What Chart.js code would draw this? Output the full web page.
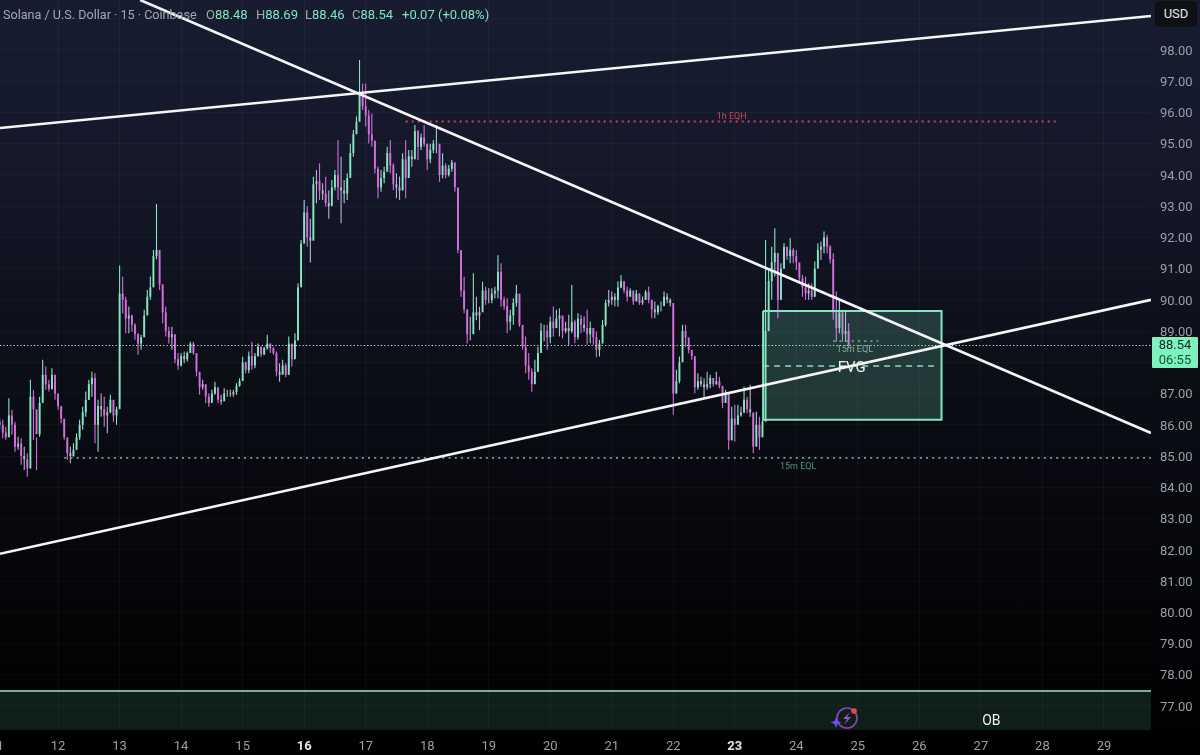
<!DOCTYPE html>
<html>
<head>
<meta charset="utf-8">
<title>Solana / U.S. Dollar</title>
<script src="https://cdn.jsdelivr.net/npm/chart.js@4/dist/chart.umd.js"></script>
<style>
  html, body { margin: 0; padding: 0; width: 1200px; height: 755px; overflow: hidden; }
  body {
    position: relative;
    background: linear-gradient(180deg, #171c30 0%, #141829 22%, #0c0e18 48%, #06070b 72%, #020203 92%, #000 100%);
    font-family: Roboto, sans-serif;
  }
  canvas { position: absolute; left: 0; top: 0; }
  .hdr { position: absolute; top: 7px; left: 3px; font-size: 13px; line-height: 16px; color: #a3a9b4; white-space: nowrap; }
  .hdr b { font-weight: 400; color: #7fe6bd; }
  .hdr span { position: absolute; top: 0; }
  .usd { position: absolute; left: 1155px; top: 1px; width: 42px; height: 26px; line-height: 26px; background: #0f1013;
         border-radius: 4px; color: #e8e8ea; font-size: 13px; text-align: center; }
  .last { position: absolute; left: 1152px; top: 337px; width: 46px; height: 31px; background: #7df2bd; color: #0b2a20;
          font-size: 13px; line-height: 15px; text-align: center; border-radius: 1px; }
  .icon { position: absolute; left: 830px; top: 704px; }
</style>
</head>
<body>
<canvas id="grafico" width="1200" height="755"></canvas>
<div class="hdr"><span style="left:0;font-size:12.6px">Solana / U.S. Dollar · 15 · Coinbase</span>
  <span style="left:203px">O<b>88.48</b></span>
  <span style="left:253px">H<b>88.69</b></span>
  <span style="left:302px">L<b>88.46</b></span>
  <span style="left:349px">C<b>88.54</b></span>
  <span style="left:399px"><b>+0.07 (+0.08%)</b></span>
</div>
<div class="usd">USD</div>
<div class="last">88.54<br><span style="color:#14533c">06:55</span></div>
<svg class="icon" width="32" height="28" viewBox="0 0 32 28">
  <circle cx="17" cy="14" r="10" fill="none" stroke="#8e44ad" stroke-width="1.6"/>
  <path d="M20 8 L13 15 L17 15 L14 21 L21 13 L17 13 Z" fill="#a44fc7"/>
  <circle cx="24" cy="7" r="2.8" fill="#e5484d"/>
  <path d="M6 13 L7.5 17 L11.5 18.5 L7.5 20 L6 24 L4.5 20 L0.5 18.5 L4.5 17 Z" fill="#6a4ff0"/>
</svg>
<script>
// rows are one day each, 11 to 24, one stick every 0.05 day
const firstDay = 11.05;
const stepDay = 0.05;
const firstOpen = 86.1;
const highs = [
  86.21,86.16,85.94,86.85,86.48,86.1,85.62,85.57,85.3,85.09,87.44,87.12,85.6,86.9,88.08,87.87,87.44,87.81,87.22,
  86.8,86.58,86.16,85.46,85.3,85.41,85.73,86.16,86.58,87.07,87.44,87.7,87.65,86.8,87.0,86.9,86.58,86.96,86.69,86.58,
  91.1,90.75,90.1,89.79,89.52,89.25,88.93,88.88,89.68,90.32,90.75,91.6,93.07,91.39,90.32,89.79,89.14,89.14,88.72,88.3,
  88.3,88.35,88.35,88.66,88.66,88.3,87.55,87.44,87.22,87.01,87.12,87.38,87.12,86.96,87.17,87.12,87.12,87.12,87.33,87.49,
  88.18,88.03,88.35,88.66,88.3,88.6,88.5,88.5,88.88,88.6,88.5,88.35,87.97,88.08,87.97,88.83,88.5,88.93,90.53,91.92,
  93.2,93.0,92.6,93.94,94.16,94.37,93.73,93.94,93.5,93.84,94.16,95.12,94.58,93.84,94.05,95.0,95.44,95.87,97.68,96.93,
  96.93,96.08,95.97,95.01,94.26,94.16,94.26,94.9,95.12,94.37,94.05,93.95,94.69,95.12,94.8,94.8,95.6,95.44,95.33,95.6,
  95.0,95.0,95.12,95.6,94.9,94.69,94.37,94.32,94.48,94.1,93.46,91.49,90.74,89.57,89.46,90.85,90.1,89.78,90.58,90.42,
  90.37,90.37,90.42,91.43,91.17,90.1,90.05,89.68,90.05,90.48,89.78,89.14,88.83,88.3,87.81,88.08,88.5,89.25,89.2,89.2,
  89.47,89.79,89.68,89.73,89.47,89.3,89.52,90.48,89.36,89.57,89.52,89.47,89.68,89.3,89.04,88.99,88.72,89.36,90.0,90.32,
  90.27,90.21,90.59,90.8,90.53,90.43,90.37,90.21,90.32,90.21,90.11,90.32,90.43,90.0,89.95,89.84,89.95,90.27,90.21,90.05,
  89.79,87.76,88.19,89.2,89.2,88.61,88.34,88.08,87.65,87.54,87.49,87.7,87.6,87.49,87.7,87.54,87.22,87.12,86.9,86.58,
  86.64,86.64,86.58,87.22,86.9,87.28,86.37,86.42,86.26,86.15,91.92,90.96,91.7,92.29,90.64,91.17,91.81,91.7,91.97,91.65,
  91.6,91.17,90.8,90.75,90.53,90.53,91.23,91.81,91.87,92.19,92.08,91.76,91.49,90.27,90.0,89.68,89.68,89.25
];
const lows = [
  85.84,85.57,85.52,85.94,85.68,85.14,85.2,84.72,84.55,84.34,85.09,85.52,84.55,85.62,86.8,87.12,87.07,87.12,86.8,
  86.48,86.05,85.52,84.88,84.77,84.98,85.2,85.52,85.84,86.26,86.8,86.9,85.41,85.14,86.26,85.94,85.73,86.37,86.1,86.0,
  86.7,89.57,88.93,88.93,88.98,88.72,88.24,88.4,88.83,89.68,90.0,90.69,91.3,90.32,89.25,88.83,88.6,88.4,87.97,87.76,
  87.87,87.97,88.03,88.3,88.24,87.55,86.96,87.12,86.69,86.58,86.8,86.96,86.69,86.64,86.85,86.9,86.9,86.9,86.96,87.22,
  87.44,87.65,87.65,87.76,87.81,88.18,88.18,88.24,88.4,88.3,88.24,87.55,87.38,87.65,87.52,87.81,87.87,88.18,88.72,90.53,
  91.9,91.7,91.2,91.9,93.09,93.2,93.2,92.98,92.6,93.3,93.5,93.2,92.45,93.09,93.2,94.05,94.58,95.44,95.8,96.08,
  95.55,95.01,94.9,94.05,93.25,93.46,93.73,94.16,94.05,93.52,93.25,93.2,93.52,93.25,93.95,94.26,94.8,94.48,94.8,94.9,
  94.16,94.37,94.69,94.69,93.78,93.89,93.89,93.95,94.1,93.46,91.49,90.1,89.57,88.6,88.7,89.25,89.35,89.03,89.78,89.84,
  89.89,89.89,90.05,90.05,89.78,89.68,88.93,89.03,89.2,89.78,89.14,88.4,87.65,87.44,87.06,87.49,87.7,88.5,88.67,88.4,
  88.61,88.83,89.09,88.83,88.77,88.93,88.56,88.93,88.61,88.72,88.93,88.98,88.56,88.61,88.56,88.16,88.19,88.67,89.15,89.79,
  89.84,89.79,89.79,90.37,90.21,89.95,90.11,89.84,90.0,89.84,89.84,90.0,89.89,89.41,89.41,89.52,89.63,89.84,89.89,89.79,
  86.32,87.01,87.33,88.08,88.5,88.29,88.08,87.01,87.12,87.22,86.85,87.12,87.17,87.22,87.28,87.17,86.53,86.8,85.2,85.57,
  85.46,86.05,86.26,86.37,86.37,86.26,85.09,85.78,85.2,85.68,88.34,89.68,90.0,90.75,89.41,90.0,91.17,91.28,91.17,91.17,
  90.96,90.53,90.1,90.0,90.0,90.0,90.1,91.07,91.28,91.49,91.49,91.17,89.36,88.66,88.93,88.66,88.66,88.46
];
const closes = [
  86.0,85.75,85.6,86.3,86.0,85.3,85.4,85.0,84.9,84.6,86.9,86.5,85.7,86.7,87.6,87.3,87.15,87.6,87.0,
  86.6,86.2,85.6,85.1,85.0,85.2,85.6,86.0,86.4,86.8,87.3,87.5,86.0,86.6,86.5,86.3,86.4,86.8,86.3,86.5,
  90.2,90.0,89.4,89.5,89.2,88.9,88.6,88.8,89.5,90.1,90.4,91.4,91.6,90.5,89.6,89.0,88.8,88.9,88.1,87.9,
  88.2,88.1,88.3,88.6,88.3,87.7,87.2,87.3,86.9,86.7,87.0,87.2,86.8,86.75,87.0,87.0,86.98,87.05,87.25,87.4,
  88.0,87.75,88.2,87.9,88.2,88.5,88.25,88.45,88.6,88.45,88.3,87.7,87.6,87.9,87.6,88.6,88.1,88.7,90.4,91.8,
  92.8,92.0,91.9,93.7,93.8,93.5,93.4,93.1,93.0,93.6,94.0,93.6,93.5,93.4,93.9,94.7,95.3,95.7,96.6,96.2,
  95.9,95.3,95.1,94.2,93.6,93.9,94.1,94.7,94.3,93.7,93.6,93.5,94.5,93.9,94.6,94.5,95.4,94.9,95.2,95.0,
  94.5,94.8,95.0,95.0,94.0,94.3,94.0,94.2,94.4,93.6,91.6,90.3,89.7,88.9,88.9,89.6,89.5,89.6,90.3,90.0,
  90.0,90.2,90.3,90.9,90.0,89.8,89.3,89.5,89.9,90.2,89.2,88.5,87.9,87.7,87.3,87.7,88.3,89.0,89.0,88.8,
  89.3,89.1,89.4,89.5,89.0,89.1,89.0,89.3,88.8,89.4,89.2,89.1,88.9,89.1,88.8,88.4,88.6,89.2,89.9,90.0,
  90.1,90.0,90.4,90.6,90.3,90.1,90.3,89.95,90.2,89.9,90.0,90.25,90.0,89.7,89.6,89.8,89.8,90.1,90.0,89.9,
  87.0,87.4,88.0,89.0,88.8,88.4,88.2,87.2,87.4,87.3,87.2,87.3,87.5,87.3,87.4,87.25,86.7,87.0,85.5,86.2,
  86.0,86.3,86.4,86.8,86.5,86.4,85.3,86.0,85.6,86.1,89.0,90.6,91.2,91.5,90.0,91.0,91.7,91.4,91.6,91.4,
  91.2,90.7,90.4,90.2,90.3,90.1,91.0,91.6,91.7,92.0,91.7,91.3,89.6,89.1,89.6,88.9,89.0,88.54
];

const xTickDays = [11,12,13,14,15,16,17,18,19,20,21,22,23,24,25,26,27,28,29];
const boldDays = [16, 23];
const yTickPrices = [77,78,79,80,81,82,83,84,85,86,87,88,89,90,91,92,93,94,95,96,97,98,99];
const hiddenPriceLabels = [88, 99]; // tapados por las cajas USD y precio

const upperRising = [{x: 11.056, y: 95.5}, {x: 29.765, y: 99.09}];
const fallingLine = [{x: 13.334, y: 99.6}, {x: 29.765, y: 85.74}];
const lowerRising = [{x: 11.056, y: 81.87}, {x: 29.765, y: 90.0}];

const eqhLine = [{x: 17.65, y: 95.71}, {x: 28.26, y: 95.71}];
const eql15Line = [{x: 12.1, y: 84.94}, {x: 29.765, y: 84.94}];
const eql15ShortLine = [{x: 24.6, y: 88.68}, {x: 25.33, y: 88.68}];
const lastPriceLine = [{x: 11.056, y: 88.54}, {x: 29.765, y: 88.54}];

const fvgBox = [{x: 23.46, y: 89.64}, {x: 26.36, y: 89.64}, {x: 26.36, y: 86.16}, {x: 23.46, y: 86.16}, {x: 23.46, y: 89.64}];
const fvgMid = [{x: 23.46, y: 87.88}, {x: 26.3, y: 87.88}];
const obBox = [{x: 11.056, y: 77.48}, {x: 29.765, y: 77.48}, {x: 29.765, y: 76.23}, {x: 11.056, y: 76.23}];
const obTop = [{x: 11.056, y: 77.48}, {x: 29.765, y: 77.48}];

const chartTexts = [
  {text: "1h EQH", x: 22.95, y: 95.87, color: "#c04a58", size: 9},
  {text: "15m EQL", x: 24.03, y: 84.66, color: "#4f9380", size: 9},
  {text: "15m EQL", x: 24.95, y: 88.41, color: "#7fb5a3", size: 9},
  {text: "FVG", x: 24.9, y: 87.82, color: "#f2f2f2", size: 15},
  {text: "OB", x: 27.17, y: 76.5, color: "#f2f2f2", size: 14}
];

const MINT = "#86e6c2";
const MAGENTA = "#d56fdc";
const GRAY = "#b6b8d2";

const opens = [firstOpen, ...closes.slice(0, -1)];
const dayOf = (i) => firstDay + i * stepDay;
const colorOf = (i) => {
  const diff = closes[i] - opens[i];
  if (Math.abs(diff) < 0.12) return GRAY;
  return diff > 0 ? MINT : MAGENTA;
};
const isBold = (c) => !!c.tick && boldDays.includes(c.tick.value);

function lineSet(data, color, width, dash, order) {
  return { type: "line", data, borderColor: color, borderWidth: width, borderDash: dash || [],
           pointRadius: 0, tension: 0, fill: false, order, borderCapStyle: "butt" };
}

const chartTextPlugin = {
  id: "chartTexts",
  afterDatasetsDraw(chart) {
    const { ctx, scales } = chart;
    ctx.save();
    ctx.textAlign = "center";
    ctx.textBaseline = "middle";
    chartTexts.forEach((t) => {
      ctx.font = t.size + "px Roboto, sans-serif";
      ctx.fillStyle = t.color;
      ctx.fillText(t.text, scales.x.getPixelForValue(t.x), scales.y.getPixelForValue(t.y));
    });
    ctx.restore();
  },
};

new Chart(document.getElementById("grafico"), {
  type: "line",
  data: {
    datasets: [
      { type: "bar", order: 11, grouped: false, barThickness: 1.1, inflateAmount: 0, backgroundColor: closes.map((c, i) => colorOf(i)),
        data: closes.map((c, i) => ({ x: dayOf(i), y: [lows[i], highs[i]] })) },
      { type: "bar", order: 10, grouped: false, barThickness: 1.9, inflateAmount: 0, backgroundColor: closes.map((c, i) => colorOf(i)),
        data: closes.map((c, i) => ({ x: dayOf(i), y: [opens[i], c] })) },
      { type: "line", order: 9, data: obBox, fill: "shape", backgroundColor: "rgba(100,215,170,0.14)",
        borderWidth: 0, pointRadius: 0, tension: 0 },
      lineSet(obTop, "#6fb39c", 2, null, 8),
      { type: "line", order: 7, data: fvgBox, fill: "shape", backgroundColor: "rgba(125,232,189,0.2)",
        borderColor: MINT, borderWidth: 2, pointRadius: 0, tension: 0, borderJoinStyle: "miter" },
      lineSet(fvgMid, "#8fd9bb", 1.5, [6, 5], 6),
      lineSet(eqhLine, "#c04a58", 2, [2, 4], 5),
      lineSet(eql15Line, "#72a594", 1.8, [2, 4.2], 5),
      lineSet(eql15ShortLine, "#72a594", 1.8, [2, 4.2], 5),
      lineSet(lastPriceLine, "#c4ecdc", 1.2, [1.2, 2.2], 4),
      lineSet(upperRising, "#f5f5f5", 2.6, null, 1),
      lineSet(fallingLine, "#f5f5f5", 2.6, null, 1),
      lineSet(lowerRising, "#f5f5f5", 2.6, null, 1),
    ],
  },
  options: {
    responsive: false,
    animation: false,
    layout: { padding: 0 },
    plugins: { legend: { display: false }, tooltip: { enabled: false }, title: { display: false } },
    scales: {
      x: {
        type: "linear", min: 11.056, max: 29.765, offset: false,
        border: { display: false },
        grid: { color: "rgba(255,255,255,0.035)", drawTicks: false, offset: false },
        afterBuildTicks: (s) => { s.ticks = xTickDays.map((v) => ({ value: v })); },
        afterFit: (s) => { s.height = 25; s.paddingLeft = 0; s.paddingRight = 0; },
        ticks: {
          autoSkip: false, maxRotation: 0, padding: 9,
          callback: (v) => String(v),
          color: (c) => (isBold(c) ? "#e4e5e8" : "#9a9fa9"),
          font: (c) => ({ family: "Roboto, sans-serif", size: 13, weight: isBold(c) ? "bold" : "normal" }),
        },
      },
      y: {
        type: "linear", position: "right", min: 76.23, max: 99.6,
        border: { display: false },
        grid: { color: "rgba(255,255,255,0.03)", drawTicks: false },
        afterBuildTicks: (s) => { s.ticks = yTickPrices.map((v) => ({ value: v })); },
        afterFit: (s) => { s.width = 49; s.paddingTop = 0; s.paddingBottom = 0; },
        ticks: {
          padding: 9, color: "#9a9fa9", labelOffset: 1.5,
          font: { family: "Roboto, sans-serif", size: 13 },
          callback: (v) => (hiddenPriceLabels.includes(v) ? "" : v.toFixed(2)),
        },
      },
    },
  },
  plugins: [chartTextPlugin],
});
</script>
</body>
</html>
